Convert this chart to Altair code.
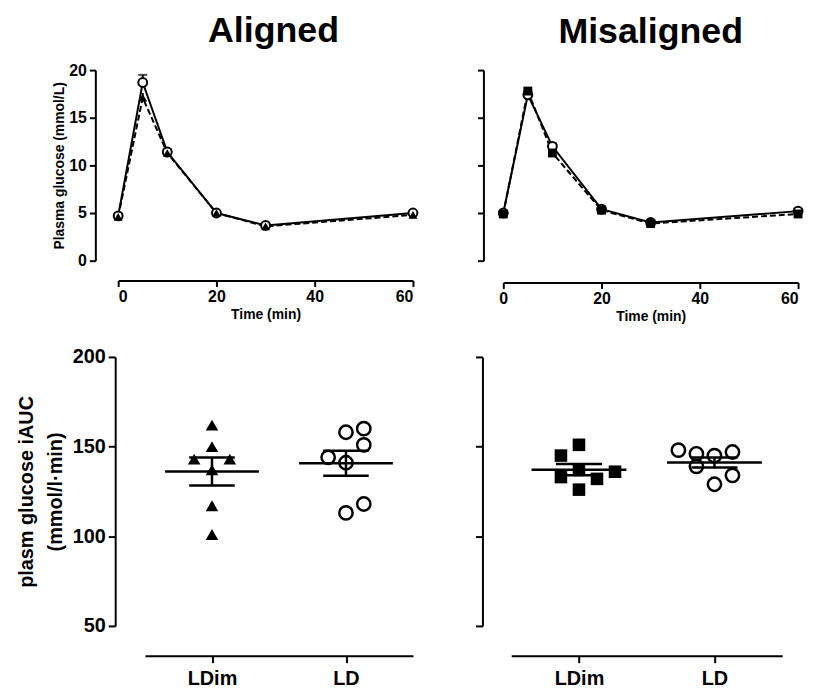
import altair as alt
import pandas as pd
import numpy as np

FONT = "Liberation Sans"

# ---------------- data ----------------
time_min = [0, 5, 10, 20, 30, 60]

aln_ld = [4.7, 18.7, 11.4, 5.0, 3.7, 5.0]
aln_ld_sem = [0.2, 0.8, 0.3, 0.2, 0.2, 0.2]
aln_ldim = [4.6, 17.1, 11.3, 5.0, 3.6, 4.8]
aln_ldim_sem = [0.2, 0.5, 0.3, 0.2, 0.2, 0.2]

mis_ld = [5.0, 17.4, 12.0, 5.4, 4.0, 5.2]
mis_ld_sem = [0.2, 0.4, 0.3, 0.2, 0.2, 0.2]
mis_ldim = [4.9, 17.8, 11.3, 5.3, 3.9, 4.9]
mis_ldim_sem = [0.2, 0.4, 0.3, 0.2, 0.2, 0.2]

groups = ["LDim", "LD"]

auc_aln_ldim = [162, 150, 143, 143, 137, 117, 101]
auc_aln_ldim_slot = [0, 0, -1, 1, 0, 0, 0]
auc_aln_ld = [160, 158, 151, 144, 141, 118, 113]
auc_aln_ld_slot = [1, 0, 1, -1, 0, 1, 0]

auc_mis_ldim = [151, 145, 133, 137, 132, 136, 126]
auc_mis_ldim_slot = [0, -1, -1, 0, 1, 2, 0]
auc_mis_ld = [148, 146, 145, 147, 139, 134, 129]
auc_mis_ld_slot = [-2, -1, 0, 1, -1, 1, 0]

SLOT = 0.133  # horizontal spacing between overlapping dots (in category units)


def axis_common(**kw):
    base = dict(
        grid=False, domainColor="black", tickColor="black", labelColor="black",
        titleColor="black", domainWidth=2, tickWidth=2, labelFont=FONT,
        titleFont=FONT, labelFontWeight="bold", titleFontWeight="bold",
    )
    base.update(kw)
    return alt.Axis(**base)


def time_panel(ld, ld_sem, ldim, ldim_sem, ldim_shape, title, show_y, y_off,
               x_off, width, title_off, title_dx, flush_last):
    df_ld = pd.DataFrame({"t": time_min, "g": ld,
                          "hi": [a + b for a, b in zip(ld, ld_sem)]})
    df_ldim = pd.DataFrame({"t": time_min, "g": ldim,
                            "hi": [a + b for a, b in zip(ldim, ldim_sem)]})
    xkw = dict(values=[0, 20, 40, 60], offset=x_off, tickSize=6,
               labelFontSize=16, title="Time (min)",
               titleFontSize=14, titlePadding=3, labelPadding=2)
    if flush_last:
        xkw["labelAlign"] = alt.condition("datum.value == 60",
                                          alt.value("right"), alt.value("center"))
    x = alt.X("t:Q", scale=alt.Scale(domain=[0, 60], nice=False, zero=False),
              axis=axis_common(**xkw))
    if show_y:
        yax = axis_common(values=[0, 5, 10, 15, 20], offset=y_off, tickSize=6,
                          labelFontSize=16, title="Plasma glucose (mmol/L)",
                          titleFontSize=14, titlePadding=2, labelPadding=3)
    else:
        yax = axis_common(values=[0, 5, 10, 15, 20], offset=y_off, tickSize=6,
                          labels=False, title=None)
    y = alt.Y("g:Q", scale=alt.Scale(domain=[0, 20], nice=False), axis=yax)

    line_ldim = alt.Chart(df_ldim).mark_line(color="black", strokeWidth=2,
                                             strokeDash=[6, 3]).encode(x=x, y=y)
    line_ld = alt.Chart(df_ld).mark_line(color="black", strokeWidth=2).encode(x=x, y=y)
    err_ld = alt.Chart(df_ld).mark_rule(color="black", strokeWidth=2).encode(
        x=x, y=y, y2="hi:Q")
    cap_ld = alt.Chart(df_ld).mark_tick(color="black", orient="horizontal",
                                        size=9, thickness=2).encode(
        x=x, y=alt.Y("hi:Q"))
    err_ldim = alt.Chart(df_ldim).mark_rule(color="black", strokeWidth=2).encode(
        x=x, y=y, y2="hi:Q")
    pts_ld = alt.Chart(df_ld).mark_point(shape="circle", filled=True, fill="white",
                                         stroke="black", strokeWidth=2, size=80,
                                         opacity=1).encode(x=x, y=y)
    pts_ldim = alt.Chart(df_ldim).mark_point(shape=ldim_shape, filled=True,
                                             color="black", size=80,
                                             opacity=1).encode(x=x, y=y)
    return alt.layer(line_ldim, line_ld, err_ldim, err_ld, cap_ld, pts_ld,
                     pts_ldim).properties(
        width=width, height=192,
        title=alt.TitleParams(title, fontSize=36, font=FONT, fontWeight="bold",
                              anchor="middle", color="black", offset=title_off,
                              dx=title_dx))


def auc_panel(ldim, ldim_slot, ld, ld_slot, ldim_shape, show_y, x_range, y_off,
              width):
    df_ldim = pd.DataFrame({"x": [1 + s * SLOT for s in ldim_slot], "v": ldim})
    df_ld = pd.DataFrame({"x": [2 + s * SLOT for s in ld_slot], "v": ld})
    stats = []
    for idx, vals in ((1, ldim), (2, ld)):
        arr = np.array(vals, dtype=float)
        m = arr.mean()
        se = arr.std(ddof=1) / np.sqrt(len(arr))
        stats.append({"c": idx, "m": m, "lo": m - se, "hi": m + se,
                      "ml": idx - 0.35, "mr": idx + 0.35,
                      "cl": idx - 0.17, "cr": idx + 0.17})
    st = pd.DataFrame(stats)
    lab = "[" + ",".join("'%s'" % g for g in groups) + "][datum.value - 1]"
    xsc = alt.Scale(domain=[0.5, 2.5], range=x_range, nice=False, zero=False)
    x = alt.X("x:Q", scale=xsc,
              axis=axis_common(values=[1, 2], labelExpr=lab, offset=30, tickSize=7,
                               labelFontSize=20, labelPadding=6, title=None))
    if show_y:
        yax = axis_common(values=[50, 100, 150, 200], offset=y_off, tickSize=7,
                          labelFontSize=20, labelPadding=3,
                          title=["plasm glucose iAUC", "(mmol/l\u00b7min)"],
                          titleFontSize=20, titleLineHeight=29, titlePadding=7)
    else:
        yax = axis_common(values=[50, 100, 150, 200], offset=y_off, tickSize=7,
                          labels=False, title=None)
    y = alt.Y("v:Q", scale=alt.Scale(domain=[50, 200], nice=False, zero=False),
              axis=yax)

    p_ldim = alt.Chart(df_ldim).mark_point(shape=ldim_shape, filled=True,
                                           color="black", size=160,
                                           opacity=1).encode(x=x, y=y)
    p_ld = alt.Chart(df_ld).mark_point(shape="circle", filled=True, fill="white",
                                       stroke="black", strokeWidth=2.5, size=180,
                                       opacity=1).encode(x=x, y=y)
    mean_l = alt.Chart(st).mark_rule(color="black", strokeWidth=2.5).encode(
        x=alt.X("ml:Q", scale=xsc), x2="mr:Q", y=alt.Y("m:Q"))
    sem_v = alt.Chart(st).mark_rule(color="black", strokeWidth=2.5).encode(
        x=alt.X("c:Q", scale=xsc), y=alt.Y("lo:Q"), y2="hi:Q")
    cap_hi = alt.Chart(st).mark_rule(color="black", strokeWidth=2.5).encode(
        x=alt.X("cl:Q", scale=xsc), x2="cr:Q", y=alt.Y("hi:Q"))
    cap_lo = alt.Chart(st).mark_rule(color="black", strokeWidth=2.5).encode(
        x=alt.X("cl:Q", scale=xsc), x2="cr:Q", y=alt.Y("lo:Q"))
    return alt.layer(p_ldim, p_ld, mean_l, sem_v, cap_hi, cap_lo).properties(
        width=width, height=271)


top_l = time_panel(aln_ld, aln_ld_sem, aln_ldim, aln_ldim_sem, "triangle-up",
                   "Aligned", True, 23, 20, 297, 12, 8, False)
top_r = time_panel(mis_ld, mis_ld_sem, mis_ldim, mis_ldim_sem, "square",
                   "Misaligned", False, 20, 22, 297, 18, 0, True)
bot_l = auc_panel(auc_aln_ldim, auc_aln_ldim_slot, auc_aln_ld, auc_aln_ld_slot,
                  "triangle-up", True, [27, 297], 3, 297)
bot_r = auc_panel(auc_mis_ldim, auc_mis_ldim_slot, auc_mis_ld, auc_mis_ld_slot,
                  "square", False, [8, 281], 21, 297)

chart = alt.concat(top_l, top_r, bot_l, bot_r, columns=2,
                   spacing={"row": 24, "column": 53}).properties(
    padding={"left": 8, "top": 3, "right": 0, "bottom": 0}
).configure_view(stroke=None)

chart.save("out.html", embed_options={"renderer": "svg", "actions": False})
